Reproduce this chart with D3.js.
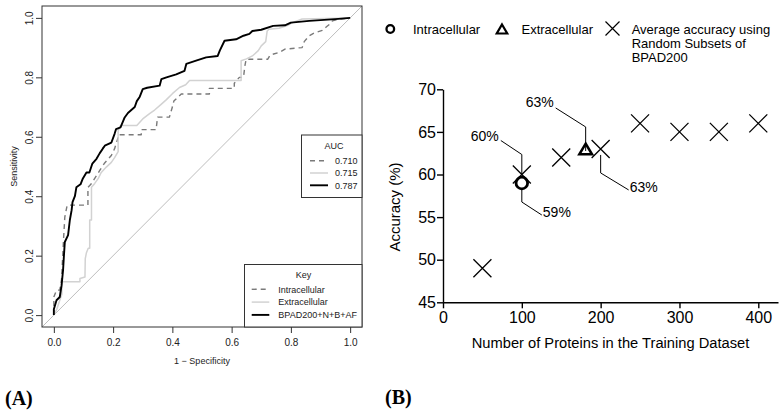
<!DOCTYPE html>
<html><head><meta charset="utf-8">
<script src="https://cdn.jsdelivr.net/npm/d3@7"></script>
<style>body{margin:0;background:#fff}svg{display:block}text{font-family:"Liberation Sans",Arial,sans-serif}text.panel{font-family:"Liberation Serif","Times New Roman",serif;font-weight:bold}</style>
</head><body>
<svg id="c" width="784" height="416"></svg>
<script>
// ---------- Panel A: ROC curves ----------
const rocTicks = [0, 0.2, 0.4, 0.6, 0.8, 1.0];
const rocIntracellular = [[0,0],[0,0.061],[0.009,0.084],[0.02,0.084],[0.026,0.12],[0.03,0.2],[0.033,0.26],[0.037,0.33],[0.045,0.37],[0.115,0.37],[0.115,0.43],[0.125,0.44],[0.138,0.46],[0.155,0.487],[0.17,0.51],[0.194,0.537],[0.205,0.56],[0.217,0.598],[0.217,0.607],[0.295,0.607],[0.295,0.624],[0.345,0.624],[0.35,0.666],[0.39,0.666],[0.40,0.70],[0.405,0.72],[0.43,0.744],[0.525,0.744],[0.525,0.763],[0.609,0.763],[0.609,0.78],[0.626,0.80],[0.64,0.80],[0.645,0.84],[0.649,0.861],[0.722,0.861],[0.73,0.875],[0.761,0.884],[0.78,0.895],[0.838,0.90],[0.845,0.92],[0.862,0.94],[0.88,0.95],[0.906,0.958],[0.92,0.97],[0.93,0.978],[0.94,0.99],[0.96,0.995],[1,1]];
const rocExtracellular = [[0,0],[0.01,0.02],[0.02,0.05],[0.027,0.07],[0.027,0.112],[0.088,0.112],[0.088,0.123],[0.105,0.128],[0.106,0.19],[0.11,0.21],[0.116,0.225],[0.121,0.225],[0.121,0.32],[0.127,0.32],[0.127,0.43],[0.138,0.443],[0.15,0.46],[0.16,0.48],[0.177,0.498],[0.194,0.514],[0.205,0.53],[0.217,0.55],[0.217,0.62],[0.225,0.638],[0.28,0.638],[0.30,0.66],[0.323,0.678],[0.34,0.69],[0.363,0.71],[0.38,0.725],[0.40,0.745],[0.424,0.766],[0.445,0.775],[0.458,0.789],[0.632,0.789],[0.632,0.856],[0.65,0.862],[0.67,0.872],[0.69,0.89],[0.70,0.906],[0.715,0.92],[0.72,0.956],[0.726,0.962],[0.76,0.965],[0.79,0.975],[0.805,0.984],[0.838,0.996],[1,1]];
const rocBPAD = [[0,0],[0,0.02],[0.009,0.05],[0.02,0.061],[0.026,0.1],[0.031,0.15],[0.034,0.2],[0.037,0.246],[0.048,0.269],[0.054,0.32],[0.06,0.353],[0.063,0.38],[0.071,0.40],[0.076,0.43],[0.09,0.44],[0.098,0.46],[0.11,0.48],[0.12,0.48],[0.13,0.51],[0.144,0.526],[0.155,0.545],[0.165,0.56],[0.172,0.57],[0.194,0.58],[0.205,0.61],[0.21,0.626],[0.225,0.632],[0.239,0.665],[0.25,0.68],[0.273,0.70],[0.28,0.72],[0.29,0.735],[0.30,0.76],[0.315,0.765],[0.357,0.772],[0.363,0.794],[0.38,0.80],[0.413,0.81],[0.441,0.822],[0.447,0.845],[0.48,0.856],[0.514,0.867],[0.553,0.872],[0.56,0.89],[0.576,0.923],[0.615,0.928],[0.64,0.94],[0.66,0.946],[0.67,0.956],[0.70,0.96],[0.74,0.973],[0.78,0.975],[0.80,0.984],[0.862,0.99],[0.95,0.996],[1,1]];
const aucLabels = ["0.710", "0.715", "0.787"];
const keyLabels = ["Intracellular", "Extracellular", "BPAD200+N+B+AF"];

// ---------- Panel B: accuracy ----------
const subsetSizes = [50, 100, 150, 200, 250, 300, 350, 400];
const subsetAccuracy = [49, 60, 62, 63, 66, 65, 65, 66];
const intraSize = [100], intraAccuracy = [59];
const extraSize = [181], extraAccuracy = [63];
const accTicks = [45, 50, 55, 60, 65, 70];
const sizeTicks = [0, 100, 200, 300, 400];

const svg = d3.select("#c");

// ===== Panel A =====
const ax = d3.scaleLinear().domain([-0.04, 1.04]).range([42, 362]);
const ay = d3.scaleLinear().domain([-0.04, 1.04]).range([327, 6]);
const gA = svg.append("g");
gA.append("line").attr("x1", ax(-0.04)).attr("y1", ay(-0.04)).attr("x2", ax(1.04)).attr("y2", ay(1.04))
  .attr("stroke", "#bdbdbd").attr("stroke-width", 1);
const line = d3.line().x(d => ax(d[0])).y(d => ay(d[1]));
const styles = [
  {data: rocIntracellular, stroke: "#7a7a7a", w: 1.4, dash: "5,4"},
  {data: rocExtracellular, stroke: "#d2d2d2", w: 1.5, dash: null},
  {data: rocBPAD, stroke: "#000", w: 1.9, dash: null}
];
styles.forEach(s => {
  gA.append("path").attr("d", line(s.data)).attr("fill", "none").attr("stroke", s.stroke)
    .attr("stroke-width", s.w).attr("stroke-dasharray", s.dash).attr("stroke-linejoin", "round");
});
gA.append("rect").attr("x", 42).attr("y", 6).attr("width", 320).attr("height", 321)
  .attr("fill", "none").attr("stroke", "#333").attr("stroke-width", 1);
const xAxA = d3.axisBottom(ax).tickValues(rocTicks).tickFormat(d3.format(".1f")).tickSize(6).tickPadding(6);
const gx = gA.append("g").attr("transform", "translate(0,327)").call(xAxA);
gx.select(".domain").remove();
gx.selectAll("line").attr("stroke", "#333");
gx.selectAll("text").attr("font-size", 10).attr("fill", "#222").style("font-family", "Liberation Sans, Arial");
const yAxA = d3.axisLeft(ay).tickValues(rocTicks).tickFormat(d3.format(".1f")).tickSize(6);
const gy = gA.append("g").attr("transform", "translate(42,0)").call(yAxA);
gy.select(".domain").remove();
gy.selectAll("line").attr("stroke", "#333");
gy.selectAll("text").attr("font-size", 10).attr("fill", "#222").style("font-family", "Liberation Sans, Arial")
  .attr("text-anchor", "middle").attr("x", 0).attr("dy", 0)
  .attr("transform", "translate(-9,0) rotate(-90)");
gA.append("text").attr("x", ax(0.5)).attr("y", 364).attr("text-anchor", "middle").attr("font-size", 9).attr("fill", "#222").text("1 \u2212 Specificity");
gA.append("text").attr("transform", `translate(16.5,${ay(0.5)}) rotate(-90)`).attr("text-anchor", "middle").attr("font-size", 9).attr("fill", "#222").text("Sensitivity");

const aucBox = gA.append("g");
aucBox.append("rect").attr("x", 301.5).attr("y", 135).attr("width", 60.5).attr("height", 62.5).attr("fill", "#fff").attr("stroke", "#333");
aucBox.append("text").attr("x", 334).attr("y", 149).attr("text-anchor", "middle").attr("font-size", 9).attr("fill", "#222").text("AUC");
aucLabels.forEach((t, i) => {
  const y = 160.7 + i * 12.3;
  aucBox.append("line").attr("x1", 310).attr("x2", 328).attr("y1", y).attr("y2", y)
    .attr("stroke", styles[i].stroke).attr("stroke-width", styles[i].w).attr("stroke-dasharray", styles[i].dash);
  aucBox.append("text").attr("x", 335).attr("y", y + 3.2).attr("font-size", 9).attr("fill", "#222").text(t);
});
const keyBox = gA.append("g");
keyBox.append("rect").attr("x", 244.5).attr("y", 264.5).attr("width", 117.5).attr("height", 62.5).attr("fill", "#fff").attr("stroke", "#333");
keyBox.append("text").attr("x", 303.5).attr("y", 277.5).attr("text-anchor", "middle").attr("font-size", 9).attr("fill", "#222").text("Key");
keyLabels.forEach((t, i) => {
  const y = 289.3 + i * 12.8;
  keyBox.append("line").attr("x1", 251.7).attr("x2", 269.3).attr("y1", y).attr("y2", y)
    .attr("stroke", styles[i].stroke).attr("stroke-width", styles[i].w).attr("stroke-dasharray", styles[i].dash);
  keyBox.append("text").attr("x", 278.3).attr("y", y + 3.2).attr("font-size", 9).attr("fill", "#222").text(t);
});
svg.append("text").attr("class", "panel").attr("x", 5).attr("y", 405).attr("font-size", 20).text("(A)");

// ===== Panel B =====
const bx = d3.scaleLinear().domain([0, 425]).range([443, 778]);
const by = d3.scaleLinear().domain([45, 70]).range([302.3, 89.3]);
const gB = svg.append("g");
const xAxB = d3.axisBottom(bx).tickValues(sizeTicks).tickSize(6).tickPadding(3).tickSizeOuter(0);
const gbx = gB.append("g").attr("transform", "translate(0,302.3)").call(xAxB);
gbx.select(".domain").attr("stroke-width", 1.4);
gbx.selectAll("line").attr("stroke-width", 1.4);
gbx.selectAll("text").attr("font-size", 16).style("font-family", "Liberation Sans, Arial").attr("fill", "#000");
const yAxB = d3.axisLeft(by).tickValues(accTicks).tickSize(6).tickPadding(1).tickSizeOuter(0);
const gby = gB.append("g").attr("transform", "translate(443,0)").call(yAxB);
gby.select(".domain").attr("stroke-width", 1.4);
gby.selectAll("line").attr("stroke-width", 1.4);
gby.selectAll("text").attr("font-size", 16).style("font-family", "Liberation Sans, Arial").attr("fill", "#000");
gB.append("text").attr("x", (443 + 778) / 2).attr("y", 348).attr("text-anchor", "middle").attr("font-size", 14.7).text("Number of Proteins in the Training Dataset");
gB.append("text").attr("transform", `translate(400,207) rotate(-90)`).attr("text-anchor", "middle").attr("font-size", 15).text("Accuracy (%)");

function crossPath(cx, cy, h) {
  return `M${cx - h},${cy - h}L${cx + h},${cy + h}M${cx - h},${cy + h}L${cx + h},${cy - h}`;
}
function triPath(cx, cy, w, h) {
  return `M${cx},${cy - h / 2}L${cx + w / 2},${cy + h / 2}L${cx - w / 2},${cy + h / 2}Z`;
}
function leader(pts, label, tx, ty, anchor) {
  gB.append("path").attr("d", d3.line()(pts)).attr("fill", "none").attr("stroke", "#000").attr("stroke-width", 1);
  gB.append("text").attr("x", tx).attr("y", ty).attr("text-anchor", anchor).attr("font-size", 14).text(label);
}
{
  const px = bx(subsetSizes[1]), py = by(subsetAccuracy[1]);
  leader([[px, py], [px, py - 20], [px - 21, py - 34]], subsetAccuracy[1] + "%", px - 23, py - 34, "end");
}
{
  const px = bx(intraSize[0]), py = by(intraAccuracy[0]);
  leader([[px, py + 5], [px, py + 19], [px + 20, py + 32]], intraAccuracy[0] + "%", px + 21, py + 34, "start");
}
{
  const px = bx(extraSize[0]), py = by(extraAccuracy[0]);
  leader([[px, py + 2], [px, py - 22], [px - 30, py - 41]], extraAccuracy[0] + "%", px - 32, py - 42, "end");
}
{
  const px = bx(subsetSizes[3]), py = by(subsetAccuracy[3]);
  leader([[px, py + 6], [px, py + 24], [px + 28, py + 41]], subsetAccuracy[3] + "%", px + 29, py + 43, "start");
}
gB.selectAll("path.x").data(subsetSizes).join("path").attr("class", "x")
  .attr("d", (d, i) => crossPath(bx(d), by(subsetAccuracy[i]), 9))
  .attr("stroke", "#000").attr("stroke-width", 1.3).attr("fill", "none");
gB.selectAll("circle.intra").data(intraSize).join("circle").attr("class", "intra")
  .attr("cx", d => bx(d)).attr("cy", (d, i) => by(intraAccuracy[i])).attr("r", 5.8)
  .attr("fill", "none").attr("stroke", "#000").attr("stroke-width", 2.8);
gB.selectAll("path.tri").data(extraSize).join("path").attr("class", "tri")
  .attr("d", (d, i) => triPath(bx(d), by(extraAccuracy[i]), 12.5, 10.5))
  .attr("fill", "none").attr("stroke", "#000").attr("stroke-width", 2.6).attr("stroke-linejoin", "miter");

const lg = svg.append("g");
lg.append("circle").attr("cx", 390.3).attr("cy", 29).attr("r", 3.8).attr("fill", "none").attr("stroke", "#000").attr("stroke-width", 2.3);
lg.append("text").attr("x", 413).attr("y", 33.5).attr("font-size", 13).text("Intracellular");
lg.append("path").attr("d", triPath(502, 29, 10.5, 9)).attr("fill", "none").attr("stroke", "#000").attr("stroke-width", 2.2);
lg.append("text").attr("x", 521.5).attr("y", 33.5).attr("font-size", 13).text("Extracellular");
lg.append("path").attr("d", crossPath(612.5, 28.5, 7)).attr("stroke", "#000").attr("stroke-width", 1.2);
const lt = lg.append("text").attr("x", 631.7).attr("y", 33.5).attr("font-size", 13);
["Average accuracy using", "Random Subsets of", "BPAD200"].forEach((t, i) =>
  lt.append("tspan").attr("x", 631.7).attr("dy", i === 0 ? 0 : 14.4).text(t));
svg.append("text").attr("class", "panel").attr("x", 385).attr("y", 404).attr("font-size", 20).text("(B)");
</script>
</body></html>
